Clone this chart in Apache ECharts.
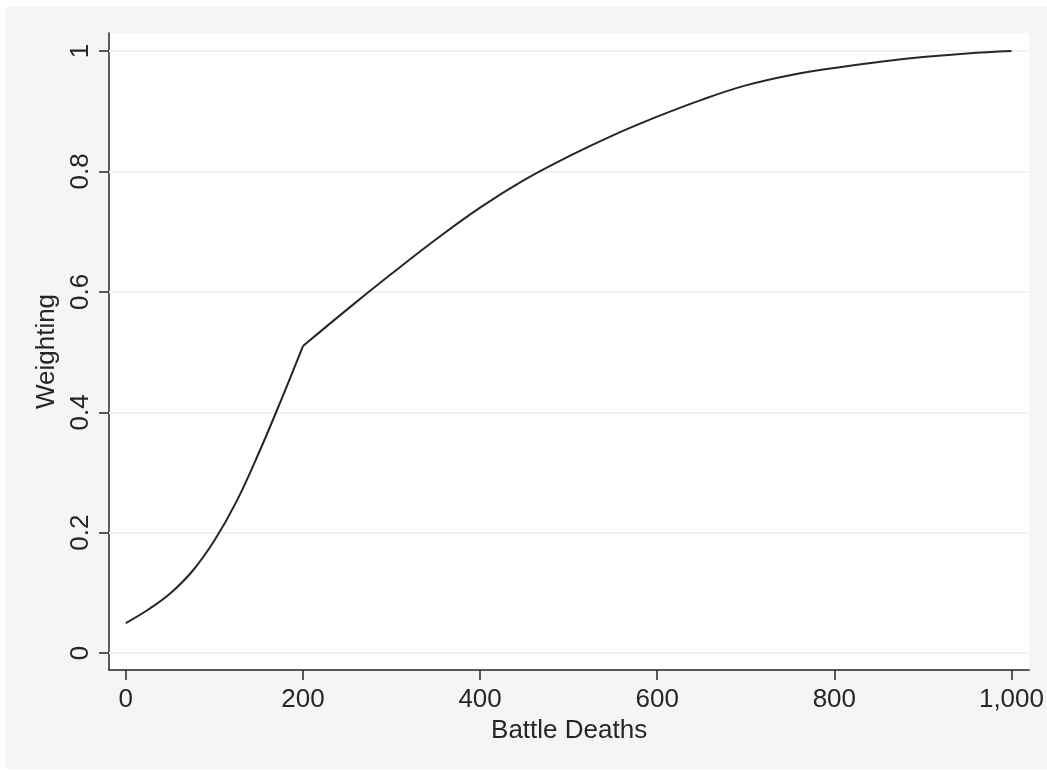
<!DOCTYPE html>
<html>
<head>
<meta charset="utf-8">
<script src="https://cdn.jsdelivr.net/npm/echarts@6/dist/echarts.min.js"></script>
<style>
  html, body { margin: 0; padding: 0; background: #ffffff; }
  #frame { position: absolute; left: 5px; top: 7px; width: 1042px; height: 762px; background: #f5f5f5; }
  #chart { position: absolute; left: 0; top: 0; width: 1047px; height: 770px; }
</style>
</head>
<body>
<div id="frame"></div>
<div id="chart"></div>
<script>
// Weighting curve as a function of battle deaths (two joined pieces, kink at 200)
const lowDeaths = [0, 25, 50, 75, 100, 125, 150, 175, 200];
const lowWeight = [0.050, 0.072, 0.099, 0.136, 0.187, 0.252, 0.332, 0.419, 0.510];
const highDeaths = [200, 250, 300, 350, 400, 450, 500, 550, 600, 650, 700, 750, 800, 850, 900, 950, 1000];
const highWeight = [0.510, 0.571, 0.630, 0.687, 0.740, 0.786, 0.825, 0.860, 0.891, 0.919, 0.943, 0.960, 0.972, 0.982, 0.990, 0.996, 1.000];

const xTicks = [0, 200, 400, 600, 800, 1000];
const yTicks = [0, 0.2, 0.4, 0.6, 0.8, 1];

const ink = '#262626';
const font = 'Liberation Sans, Arial, Helvetica, sans-serif';

const pairs = (xs, ys) => xs.map((x, i) => [x, ys[i]]);

const curveStyle = {
  type: 'line',
  smooth: 0.4,
  showSymbol: false,
  lineStyle: { color: ink, width: 2 },
  z: 3
};

const chart = echarts.init(document.getElementById('chart'), null, { renderer: 'canvas' });
chart.setOption({
  backgroundColor: 'transparent',
  animation: false,
  grid: {
    left: 109, top: 33, right: 13, bottom: 100,
    show: true, backgroundColor: '#ffffff', borderWidth: 0
  },
  xAxis: {
    type: 'value',
    min: -19, max: 1020,
    name: 'Battle Deaths',
    nameLocation: 'middle',
    nameGap: 47,
    nameTextStyle: { fontFamily: font, fontSize: 26, color: ink },
    axisLine: { show: true, onZero: false, lineStyle: { color: ink, width: 1.5 } },
    axisTick: { show: true, length: 10, customValues: xTicks, lineStyle: { color: ink, width: 1.5 } },
    axisLabel: {
      customValues: xTicks, margin: 17,
      fontFamily: font, fontSize: 26, color: ink,
      formatter: v => v.toLocaleString('en-US')
    },
    splitLine: { show: false }
  },
  yAxis: {
    type: 'value',
    min: -0.028, max: 1.03,
    name: 'Weighting',
    nameLocation: 'middle',
    nameGap: 36,
    nameTextStyle: { fontFamily: font, fontSize: 26, color: ink },
    axisLine: { show: true, onZero: false, lineStyle: { color: ink, width: 1.5 } },
    axisTick: { show: true, length: 10, customValues: yTicks, lineStyle: { color: ink, width: 1.5 } },
    axisLabel: {
      customValues: yTicks, margin: 15, rotate: 90,
      fontFamily: font, fontSize: 26, color: ink,
      formatter: v => String(Math.round(v * 10) / 10)
    },
    splitLine: { show: false }
  },
  series: [
    {
      // horizontal gridlines at the labelled weights, kept beneath the curve
      type: 'line',
      data: [],
      silent: true,
      z: 1,
      markLine: {
        silent: true,
        z: 1,
        symbol: ['none', 'none'],
        label: { show: false },
        emphasis: { disabled: true },
        lineStyle: { color: '#f1f1f1', width: 2, type: 'solid' },
        data: yTicks.map(v => ({ yAxis: v }))
      }
    },
    Object.assign({ data: pairs(lowDeaths, lowWeight) }, curveStyle),
    Object.assign({ data: pairs(highDeaths, highWeight) }, curveStyle)
  ]
});
</script>
</body>
</html>
